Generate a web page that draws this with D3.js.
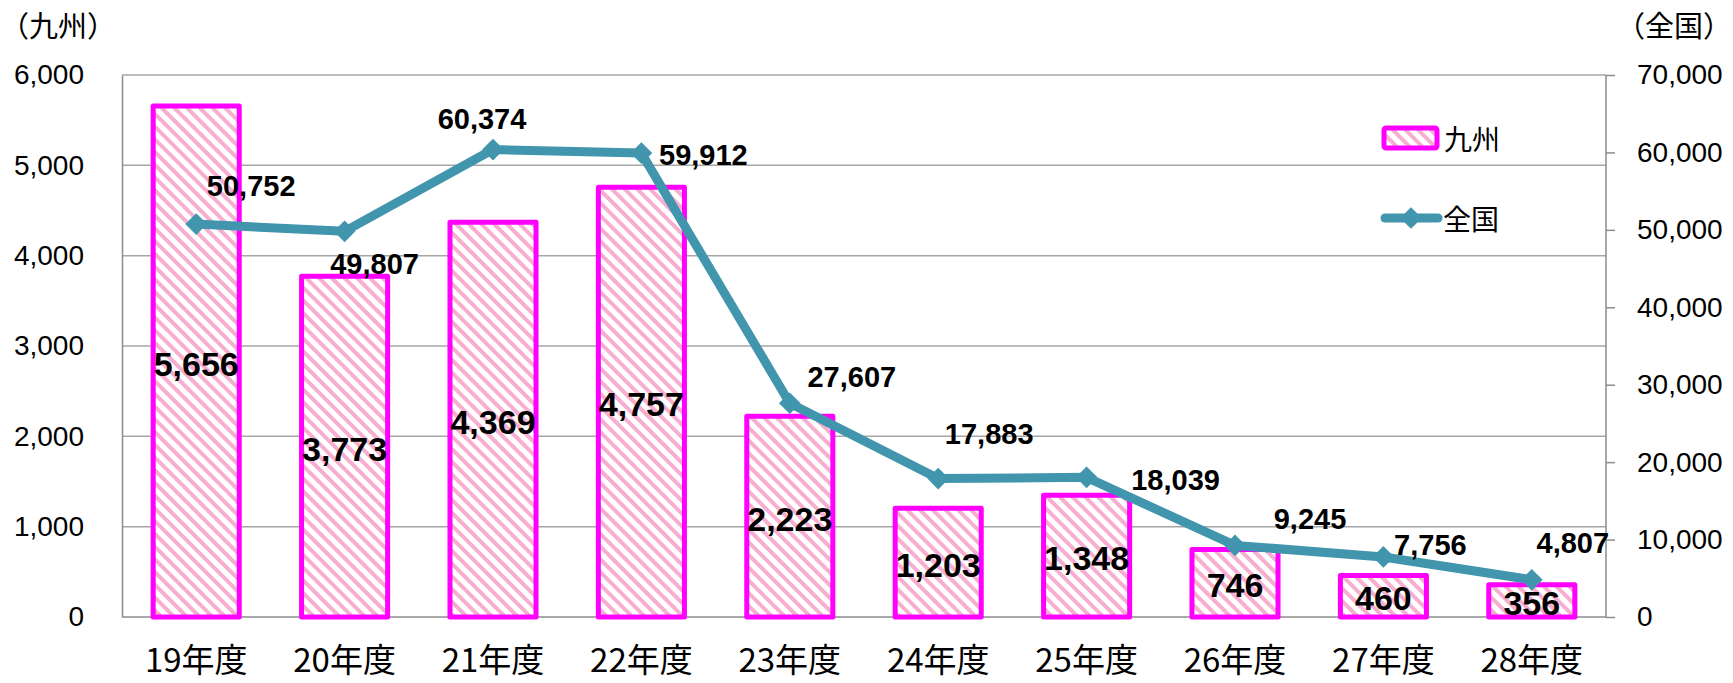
<!DOCTYPE html>
<html>
<head>
<meta charset="utf-8">
<script src="https://cdn.jsdelivr.net/npm/d3@7"></script>
<style>
  html, body { margin: 0; padding: 0; background: #fff; }
  svg { display: block; }
</style>
</head>
<body>
<svg id="chart" width="1733" height="683"></svg>
<script>
// ---- data ----
const categories = ["19年度","20年度","21年度","22年度","23年度","24年度","25年度","26年度","27年度","28年度"];
const kyushuValues = [5656, 3773, 4369, 4757, 2223, 1203, 1348, 746, 460, 356];
const nationalValues = [50752, 49807, 60374, 59912, 27607, 17883, 18039, 9245, 7756, 4807];
const leftTicks = [0, 1000, 2000, 3000, 4000, 5000, 6000];
const rightTicks = [0, 10000, 20000, 30000, 40000, 50000, 60000, 70000];
const seriesNames = ["九州", "全国"];
const axisTitles = ["（九州）", "（全国）"];
// label offsets for the 全国 data labels (layout only)
const nationalLabelOffsets = [[55,-38],[30,33],[-11,-31],[62,2],[62,-26],[51,-45],[89,3],[75,-26],[47,-12],[41,-37]];

// ---- layout ----
const W = 1733, H = 683;
const plot = { left: 122, right: 1606, top: 75, bottom: 617 };
const numFont = "'Liberation Sans', Arial, sans-serif";
const jpFont = "'Noto Sans CJK JP', 'Noto Sans', sans-serif";
const lineColor = "#4196ae";
const barStroke = "#ff00ff";
const gridColor = "#a6a6a6";

const svg = d3.select("#chart");

const defs = svg.append("defs");
const pat = defs.append("pattern")
  .attr("id", "stripes")
  .attr("patternUnits", "userSpaceOnUse")
  .attr("width", 9).attr("height", 9)
  .attr("patternTransform", "rotate(-45)");
pat.append("rect").attr("width", 9).attr("height", 9).attr("fill", "#fff");
pat.append("rect").attr("width", 4).attr("height", 9).attr("fill", "#f7aed0");

const x = d3.scaleBand().domain(categories).range([plot.left, plot.right]).paddingInner(0.42).paddingOuter(0.21);
const yL = d3.scaleLinear().domain([0, 6000]).range([plot.bottom, plot.top]);
const yR = d3.scaleLinear().domain([0, 70000]).range([plot.bottom, plot.top]);
const fmt = d3.format(",");

// gridlines
svg.append("g").selectAll("line").data(leftTicks.filter(d => d > 0)).join("line")
  .attr("x1", plot.left).attr("x2", plot.right)
  .attr("y1", d => yL(d)).attr("y2", d => yL(d))
  .attr("stroke", gridColor).attr("stroke-width", 1.5);

// left axis
const gL = svg.append("g").attr("transform", `translate(${plot.left},0)`)
  .call(d3.axisLeft(yL).tickValues(leftTicks).tickFormat(fmt).tickSize(0).tickPadding(38));
gL.select(".domain").attr("stroke", "#8c8c8c").attr("stroke-width", 1.5);
gL.selectAll("text").attr("font-family", numFont).attr("font-size", 28).attr("fill", "#000");

// right axis
const gR = svg.append("g").attr("transform", `translate(${plot.right},0)`)
  .call(d3.axisRight(yR).tickValues(rightTicks).tickFormat(fmt).tickSize(9).tickPadding(22));
gR.select(".domain").attr("stroke", "#8c8c8c").attr("stroke-width", 1.5).attr("d", `M0,${plot.top}V${plot.bottom}`);
gR.selectAll(".tick line").attr("stroke", "#8c8c8c").attr("stroke-width", 1.5);
gR.selectAll("text").attr("font-family", numFont).attr("font-size", 28).attr("fill", "#000");

// bottom axis
const gB = svg.append("g").attr("transform", `translate(0,${plot.bottom})`)
  .call(d3.axisBottom(x).tickSize(0));
gB.select(".domain").attr("stroke", "#8c8c8c").attr("stroke-width", 1.5).attr("d", `M${plot.left},0H${plot.right}`);
gB.selectAll("text").attr("font-family", jpFont).attr("font-size", 33).attr("fill", "#000")
  .attr("y", 55).attr("dy", 0);

// axis titles
svg.append("text").attr("x", 0).attr("y", 37).text(axisTitles[0])
  .attr("font-family", jpFont).attr("font-size", 29).attr("fill", "#000");
svg.append("text").attr("x", W - 1).attr("y", 37).attr("text-anchor", "end").text(axisTitles[1])
  .attr("font-family", jpFont).attr("font-size", 29).attr("fill", "#000");

// bars
svg.append("g").selectAll("rect").data(kyushuValues).join("rect")
  .attr("x", (d, i) => x(categories[i]))
  .attr("width", x.bandwidth())
  .attr("y", d => yL(d))
  .attr("height", d => yL(0) - yL(d))
  .attr("fill", "url(#stripes)")
  .attr("stroke", barStroke).attr("stroke-width", 5).attr("stroke-linejoin", "round");

// bar labels
svg.append("g").selectAll("text").data(kyushuValues).join("text")
  .attr("x", (d, i) => x(categories[i]) + x.bandwidth() / 2)
  .attr("y", d => (yL(d) + yL(0)) / 2 + 2)
  .attr("text-anchor", "middle").attr("dominant-baseline", "central")
  .attr("font-family", numFont).attr("font-weight", "bold").attr("font-size", 34).attr("fill", "#000")
  .text(d => fmt(d));

// line
const cx = i => x(categories[i]) + x.bandwidth() / 2;
svg.append("path").datum(nationalValues)
  .attr("d", d3.line().x((d, i) => cx(i)).y(d => yR(d)))
  .attr("fill", "none").attr("stroke", lineColor).attr("stroke-width", 9).attr("stroke-linejoin", "round");

const diamond = d3.symbol().type(d3.symbolDiamond2).size(300);
svg.append("g").selectAll("path").data(nationalValues).join("path")
  .attr("transform", (d, i) => `translate(${cx(i)},${yR(d)})`)
  .attr("d", diamond).attr("fill", lineColor);

// line labels
svg.append("g").selectAll("text").data(nationalValues).join("text")
  .attr("x", (d, i) => cx(i) + nationalLabelOffsets[i][0])
  .attr("y", (d, i) => yR(d) + nationalLabelOffsets[i][1])
  .attr("text-anchor", "middle").attr("dominant-baseline", "central")
  .attr("font-family", numFont).attr("font-weight", "bold").attr("font-size", 29).attr("fill", "#000")
  .text(d => fmt(d));

// legend
const lg = svg.append("g");
lg.append("rect").attr("x", 1384).attr("y", 128).attr("width", 53).attr("height", 20).attr("rx", 2)
  .attr("fill", "url(#stripes)").attr("stroke", barStroke).attr("stroke-width", 5);
lg.append("text").attr("x", 1444).attr("y", 138).attr("dominant-baseline", "central")
  .attr("font-family", jpFont).attr("font-size", 28).attr("fill", "#000").text(seriesNames[0]);
lg.append("line").attr("x1", 1385).attr("x2", 1438).attr("y1", 218).attr("y2", 218)
  .attr("stroke", lineColor).attr("stroke-width", 9).attr("stroke-linecap", "round");
lg.append("path").attr("transform", "translate(1411,218)").attr("d", diamond).attr("fill", lineColor);
lg.append("text").attr("x", 1443).attr("y", 218).attr("dominant-baseline", "central")
  .attr("font-family", jpFont).attr("font-size", 28).attr("fill", "#000").text(seriesNames[1]);
</script>
</body>
</html>
